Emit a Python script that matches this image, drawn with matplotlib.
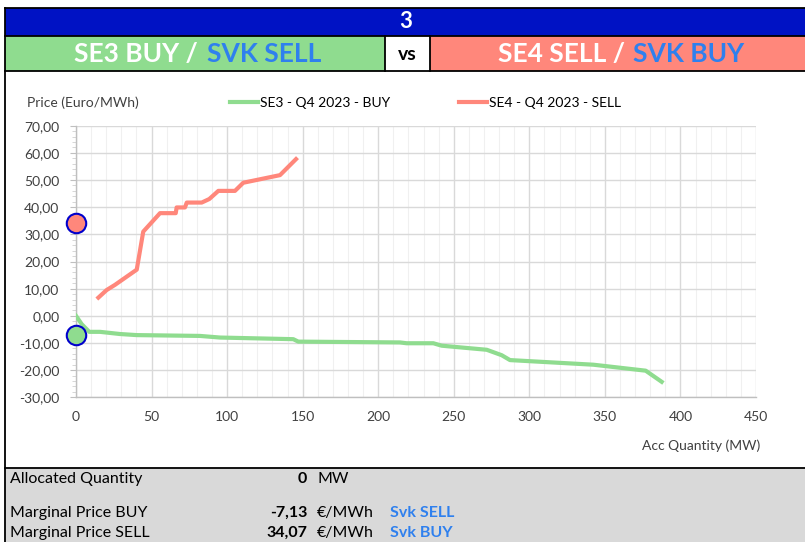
import matplotlib
matplotlib.use("Agg")
import matplotlib.pyplot as plt
import matplotlib.patches as mpatches
from matplotlib.ticker import MultipleLocator, FuncFormatter

plt.rcParams["font.family"] = ["Lato", "DejaVu Sans"]

# ── Data ─────────────────────────────────────────────────────────────────────
buy_qty = [0, 3.8, 8.8, 15.9, 29.1, 40.2, 82, 95.3, 143.8, 147.1, 214.4, 218.8,
           236.5, 242, 271.8, 281.7, 287.2, 342.4, 377, 387.6]
buy_price = [0, -3.1, -5.9, -5.9, -6.7, -7.1, -7.4, -8.0, -8.6, -9.5, -9.8, -10.1,
             -10.1, -11.0, -12.5, -14.5, -16.3, -18.0, -20.2, -24.3]

sell_qty = [14.8, 20.3, 25.8, 40.2, 44.5, 55.6, 66.0, 66.6, 72.1, 73.3, 83.2, 88.2,
            94.2, 105.2, 110.7, 135.0, 145.6]
sell_price = [6.7, 9.5, 11.4, 17.0, 31.0, 37.8, 37.8, 39.9, 39.9, 41.7, 41.7, 43.0,
              46.0, 46.0, 49.0, 51.8, 57.7]

alloc_qty = 0
marginal_buy = -7.13
marginal_sell = 34.07

GREEN = "#8FDC8F"
RED = "#FF877B"
BLUE_BAR = "#0012C4"
SVK_BLUE = "#2F80EE"
GREY_BG = "#D9D9D9"
TXT = "#404040"

W, H = 805, 542
fig = plt.figure(figsize=(W / 100, H / 100), dpi=100)
fig.patch.set_facecolor("white")

# ── Background "spreadsheet" layer in pixel coordinates ─────────────────────
bg = fig.add_axes([0, 0, 1, 1], zorder=0)
bg.set_xlim(0, W)
bg.set_ylim(H, 0)
bg.axis("off")

def rect(x0, y0, x1, y1, fc):
    bg.add_patch(mpatches.Rectangle((x0, y0), x1 - x0, y1 - y0, facecolor=fc,
                                    edgecolor="none", zorder=1))

rect(5, 8, W, 36, BLUE_BAR)
rect(5, 36, 385, 71, GREEN)
rect(385, 36, 430, 71, "white")
rect(430, 36, W, 71, RED)
rect(5, 71, W, 468, "white")
rect(5, 468, W, H, GREY_BG)

lw = 1.3
for y in (8, 36, 71, 468):
    bg.plot([5, W], [y, y], color="black", lw=lw, zorder=2)
bg.plot([5, 5], [8, H], color="black", lw=lw, zorder=2)
for x in (385, 430):
    bg.plot([x, x], [36, 71], color="black", lw=lw, zorder=2)

bg.text(406, 22, "3", ha="center", va="center", color="white",
        fontsize=16, fontweight="bold", zorder=3)
bg.text(407, 54, "vs", ha="center", va="center", color="black",
        fontsize=14, fontweight="bold", zorder=3)

hdr = dict(va="center", fontsize=19, fontweight="bold", zorder=3)
bg.text(198, 54, "SE3 BUY /", ha="right", color="white", **hdr)
bg.text(207, 54, "SVK SELL", ha="left", color=SVK_BLUE, **hdr)
bg.text(625, 54, "SE4 SELL /", ha="right", color="white", **hdr)
bg.text(633, 54, "SVK BUY", ha="left", color=SVK_BLUE, **hdr)

# summary table
tbl = dict(va="center", fontsize=11.5, color="black", zorder=3)
bg.text(10, 479, "Allocated Quantity", ha="left", **tbl)
bg.text(10, 513, "Marginal Price BUY", ha="left", **tbl)
bg.text(10, 533, "Marginal Price SELL", ha="left", **tbl)
bg.text(307, 479, f"{alloc_qty}", ha="right", fontweight="bold", **tbl)
bg.text(307, 513, f"{marginal_buy:.2f}".replace(".", ","), ha="right",
        fontweight="bold", **tbl)
bg.text(307, 533, f"{marginal_sell:.2f}".replace(".", ","), ha="right",
        fontweight="bold", **tbl)
bg.text(317, 479, "MW", ha="left", **tbl)
bg.text(317, 513, "€/MWh", ha="left", **tbl)
bg.text(317, 533, "€/MWh", ha="left", **tbl)
bg.text(390, 513, "Svk SELL", ha="left", va="center", fontsize=11.5,
        fontweight="bold", color=SVK_BLUE, zorder=3)
bg.text(390, 533, "Svk BUY", ha="left", va="center", fontsize=11.5,
        fontweight="bold", color=SVK_BLUE, zorder=3)

# axis titles drawn as free text like the spreadsheet chart
bg.text(27, 103, "Price (Euro/MWh)", ha="left", va="center", fontsize=10,
        color=TXT, zorder=3)
bg.text(760, 446, "Acc Quantity (MW)", ha="right", va="center", fontsize=10,
        color=TXT, zorder=3)

# ── Chart ────────────────────────────────────────────────────────────────────
left, right = 76 / W, 756 / W
top, bottom = 1 - 125.7 / H, 1 - 397.3 / H
ax = fig.add_axes([left, bottom, right - left, top - bottom], zorder=2)
ax.set_facecolor("none")

ax.plot(buy_qty, buy_price, color=GREEN, lw=3, solid_joinstyle="round",
        label="SE3 - Q4 2023 - BUY", zorder=3)
ax.plot(sell_qty, sell_price, color=RED, lw=3, solid_joinstyle="round",
        label="SE4 - Q4 2023 - SELL", zorder=3)

ax.plot([alloc_qty], [marginal_sell], "o", ms=14, mfc=RED, mec="#0000CC",
        mew=1.5, zorder=5, clip_on=False)
ax.plot([alloc_qty], [marginal_buy], "o", ms=14, mfc=GREEN, mec="#0000CC",
        mew=1.5, zorder=5, clip_on=False)

ax.set_xlim(0, 450)
ax.set_ylim(-30, 70)
ax.xaxis.set_major_locator(MultipleLocator(50))
ax.xaxis.set_minor_locator(MultipleLocator(10))
ax.yaxis.set_major_locator(MultipleLocator(10))
ax.yaxis.set_minor_locator(MultipleLocator(2))
ax.yaxis.set_major_formatter(FuncFormatter(lambda v, p: f"{v:.2f}".replace(".", ",")))

ax.grid(which="major", color="#D9D9D9", lw=1.0, zorder=0)
ax.grid(which="minor", axis="x", color="#F0F0F0", lw=0.8, zorder=0)
ax.set_axisbelow(True)

for s in ("top", "right"):
    ax.spines[s].set_visible(False)
for s in ("left", "bottom"):
    ax.spines[s].set_color("#BFBFBF")
    ax.spines[s].set_linewidth(1.0)

ax.tick_params(axis="x", which="both", length=0, pad=10, labelsize=10,
               labelcolor=TXT)
ax.tick_params(axis="y", which="major", length=4, color="#BFBFBF", pad=8,
               labelsize=10, labelcolor=TXT)
ax.tick_params(axis="y", which="minor", length=3, color="#D0D0D0")

ax.legend(loc="center left", bbox_to_anchor=(230 / W, 1 - 103 / H),
          bbox_transform=fig.transFigure, ncol=2, frameon=False, fontsize=10,
          handlelength=2.0, handletextpad=0.15, columnspacing=5.0,
          borderpad=0, borderaxespad=0, labelcolor="black")

fig.savefig("out.png", dpi=100, facecolor="white")
